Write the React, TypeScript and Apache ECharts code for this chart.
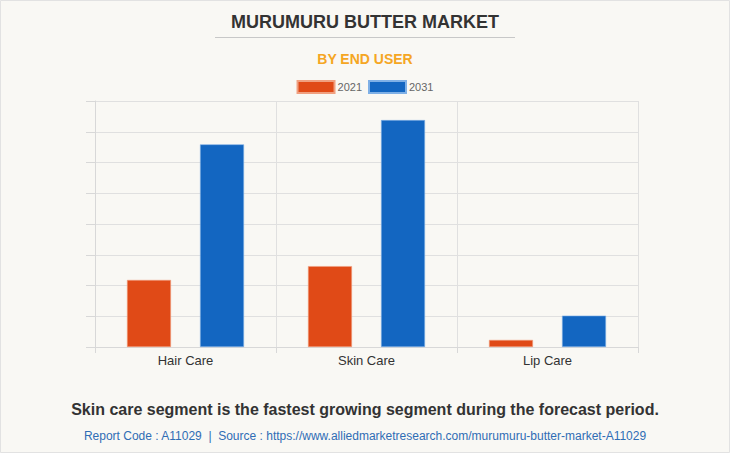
import React, { useEffect, useRef } from "react";
import * as echarts from "echarts";

const categories = ["Hair Care", "Skin Care", "Lip Care"];
const series2021 = [2.18, 2.63, 0.23];
const series2031 = [6.59, 7.38, 1.02];
const seriesNames = ["2021", "2031"];

export default function App() {
  const ref = useRef<HTMLDivElement>(null);
  useEffect(() => {
    if (!ref.current) return;
    const chart = echarts.init(ref.current, null, { renderer: "svg" });
    chart.setOption({
      animation: false,
      backgroundColor: "#f9f8f4",
      title: [
        {
          text: "MURUMURU BUTTER MARKET",
          left: "center",
          top: 8,
          textStyle: { fontFamily: "Arial, Liberation Sans", fontSize: 18, fontWeight: "bold", color: "#333333" },
        },
        {
          text: "BY END USER",
          left: "center",
          top: 47,
          textStyle: { fontFamily: "Arial, Liberation Sans", fontSize: 14, fontWeight: "bold", color: "#f5a623" },
        },
        {
          text: "Skin care segment is the fastest growing segment during the forecast period.",
          left: "center",
          top: 396,
          textStyle: { fontFamily: "Arial, Liberation Sans", fontSize: 16, fontWeight: "bold", color: "#333333" },
        },
        {
          text: "Report Code : A11029  |  Source : https://www.alliedmarketresearch.com/murumuru-butter-market-A11029",
          left: "center",
          top: 425,
          textStyle: { fontFamily: "Arial, Liberation Sans", fontSize: 12, fontWeight: "normal", color: "#2f6db5" },
        },
      ],
      graphic: [
        {
          type: "line",
          shape: { x1: 215, y1: 37.5, x2: 515, y2: 37.5 },
          style: { stroke: "#c8c8c8", lineWidth: 1 },
        },
        {
          type: "rect",
          shape: { x: 0.5, y: 0.5, width: 729, height: 452 },
          style: { fill: "none", stroke: "#e2e2e2", lineWidth: 1 },
          silent: true,
        },
      ],
      legend: {
        top: 75,
        left: "center",
        itemWidth: 37,
        itemHeight: 12,
        itemGap: 6,
        icon: "rect",
        data: seriesNames,
        textStyle: { fontFamily: "Arial, Liberation Sans", fontSize: 11, color: "#666666", padding: [0, 0, 0, -2] },
      },
      grid: { left: 95, right: 92, top: 101, bottom: 106, containLabel: false },
      xAxis: {
        type: "category",
        data: categories,
        axisLine: { show: true, lineStyle: { color: "#d8d8d8" } },
        axisTick: { show: true, length: 6, lineStyle: { color: "#d8d8d8" } },
        splitLine: { show: true, lineStyle: { color: "#e0e0e0" } },
        axisLabel: { fontFamily: "Arial, Liberation Sans", fontSize: 13, color: "#333333", margin: 7 },
      },
      yAxis: {
        type: "value",
        min: 0,
        max: 8,
        interval: 1,
        axisLine: { show: true, lineStyle: { color: "#d8d8d8" } },
        axisTick: { show: true, length: 9, lineStyle: { color: "#d8d8d8" } },
        splitLine: { show: true, lineStyle: { color: "#e0e0e0" } },
        axisLabel: { show: false },
      },
      series: [
        {
          name: seriesNames[0],
          type: "bar",
          data: series2021,
          barWidth: 44,
          barGap: "66%",
          itemStyle: { color: "#e04a17", borderColor: "#f0a080", borderWidth: 0.6 },
        },
        {
          name: seriesNames[1],
          type: "bar",
          data: series2031,
          barWidth: 44,
          itemStyle: { color: "#1366c1", borderColor: "#7fb0e6", borderWidth: 0.6 },
        },
      ],
    });
    return () => chart.dispose();
  }, []);
  return <div ref={ref} style={{ width: 730, height: 453, position: "fixed", left: 0, top: 0 }} />;
}
